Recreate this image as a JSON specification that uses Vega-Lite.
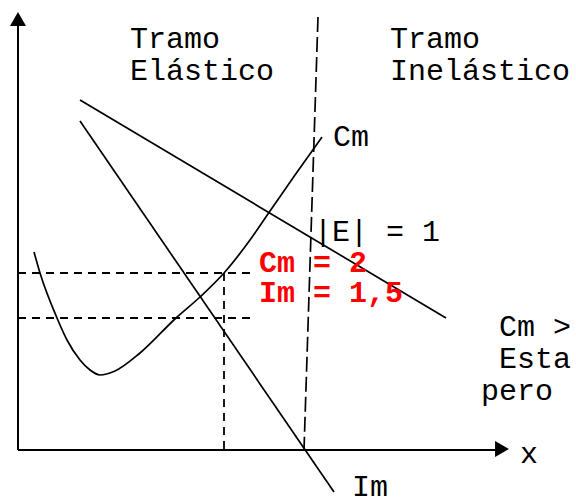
{
  "$schema": "https://vega.github.io/schema/vega-lite/v6.json",
  "width": 576,
  "height": 497,
  "padding": 0,
  "autosize": {"type": "fit", "contains": "padding"},
  "config": {"view": {"stroke": null}, "font": "Liberation Mono"},
  "encoding": {
    "x": {"field": "q", "type": "quantitative", "scale": {"domain": [-18, 558], "nice": false, "zero": false}, "axis": null},
    "y": {"field": "p", "type": "quantitative", "scale": {"domain": [-47, 450], "nice": false, "zero": false}, "axis": null}
  },
  "layer": [
    {
      "data": {"values": [
        {"name": "eje y", "q": 0, "p": 0, "q2": 0, "p2": 424},
        {"name": "eje x", "q": 0, "p": 0, "q2": 478, "p2": 0}
      ]},
      "mark": {"type": "rule", "strokeWidth": 2, "color": "black"},
      "encoding": {"x2": {"field": "q2"}, "y2": {"field": "p2"}}
    },
    {
      "data": {"values": [
        {"name": "flecha y", "q": 0, "p": 431, "shape": "triangle-up"},
        {"name": "flecha x", "q": 484, "p": 1, "shape": "triangle-right"}
      ]},
      "mark": {"type": "point", "filled": true, "size": 256, "color": "black", "opacity": 1},
      "encoding": {"shape": {"field": "shape", "type": "nominal", "scale": null}}
    },
    {
      "data": {"values": [
        {"name": "demanda", "q": 62, "p": 350, "q2": 428, "p2": 132},
        {"name": "Im", "q": 62, "p": 329, "q2": 316, "p2": -42}
      ]},
      "mark": {"type": "rule", "strokeWidth": 1.7, "color": "black"},
      "encoding": {"x2": {"field": "q2"}, "y2": {"field": "p2"}}
    },
    {
      "data": {"values": [
        {"name": "|E|=1", "q": 300, "p": 433, "q2": 286, "p2": 0}
      ]},
      "mark": {"type": "rule", "strokeWidth": 1.7, "color": "black", "strokeDash": [15, 5]},
      "encoding": {"x2": {"field": "q2"}, "y2": {"field": "p2"}}
    },
    {
      "data": {"values": [
        {"name": "Cm=2", "q": 0, "p": 177, "q2": 232, "p2": 177},
        {"name": "Im=1,5", "q": 0, "p": 132, "q2": 232, "p2": 132},
        {"name": "q", "q": 206, "p": 177, "q2": 206, "p2": 0}
      ]},
      "mark": {"type": "rule", "strokeWidth": 1.8, "color": "black", "strokeDash": [8, 6]},
      "encoding": {"x2": {"field": "q2"}, "y2": {"field": "p2"}}
    },
    {
      "data": {"values": [
        {"q": 16, "p": 198},
        {"q": 22, "p": 177},
        {"q": 39, "p": 132},
        {"q": 49, "p": 110},
        {"q": 62, "p": 90},
        {"q": 72, "p": 80},
        {"q": 82, "p": 75},
        {"q": 97, "p": 79},
        {"q": 122, "p": 97},
        {"q": 158, "p": 132},
        {"q": 182, "p": 153},
        {"q": 206, "p": 177},
        {"q": 232, "p": 210},
        {"q": 252, "p": 239},
        {"q": 277, "p": 275},
        {"q": 304, "p": 313}
      ]},
      "mark": {"type": "line", "interpolate": "monotone", "strokeWidth": 1.7, "color": "black"},
      "encoding": {}
    },
    {
      "data": {"values": [
        {"t": "Tramo", "q": 112, "p": 402},
        {"t": "Elástico", "q": 112, "p": 370},
        {"t": "Tramo", "q": 372, "p": 402},
        {"t": "Inelástico", "q": 372, "p": 370},
        {"t": "|E| = 1", "q": 296, "p": 209},
        {"t": "Cm", "q": 315, "p": 304},
        {"t": "Im", "q": 334, "p": -46},
        {"t": "x", "q": 502, "p": -13},
        {"t": "Cm >", "q": 481, "p": 114},
        {"t": "Esta", "q": 481, "p": 82},
        {"t": "pero", "q": 463, "p": 50}
      ]},
      "mark": {"type": "text", "align": "left", "baseline": "alphabetic", "fontSize": 30, "font": "Liberation Mono", "color": "black", "clip": true},
      "encoding": {"text": {"field": "t", "type": "nominal"}}
    },
    {
      "data": {"values": [
        {"t": "Cm = 2", "q": 241, "p": 178},
        {"t": "Im = 1,5", "q": 241, "p": 148}
      ]},
      "mark": {"type": "text", "align": "left", "baseline": "alphabetic", "fontSize": 30, "font": "Liberation Mono", "fontWeight": "bold", "color": "#ff0000"},
      "encoding": {"text": {"field": "t", "type": "nominal"}}
    }
  ]
}
